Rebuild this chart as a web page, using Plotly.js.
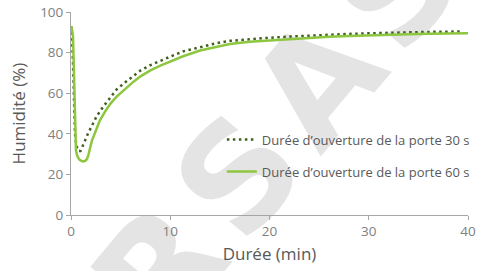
<!DOCTYPE html>
<html>
<head>
<meta charset="utf-8">
<script src="https://cdn.plot.ly/plotly-3.0.1.min.js"></script>
<style>html,body{margin:0;padding:0;background:#fff;}#chart{width:491px;height:271px;}</style>
</head>
<body>
<div id="chart"></div>
<script>
// Series 1: door opening 30 s (dotted)
const t30 = [0, 0.1, 0.2, 0.3, 0.4, 0.55, 0.75, 0.95, 1.1, 1.3, 1.7, 2.1, 2.6, 3.25, 4, 4.6, 5.5, 6.3, 7, 8, 9, 10, 11.3, 13, 14.7, 16, 18, 20, 22, 24, 26, 28, 30, 32, 34, 36, 38, 39.5];
const h30 = [93, 88, 75, 55, 40, 34, 31.5, 31.5, 33, 35.3, 40, 44.2, 48.8, 53.4, 58, 61.9, 65.5, 68.7, 71.2, 73.8, 76, 78, 80.6, 82.7, 84.7, 85.8, 86.7, 87.3, 87.9, 88.4, 88.8, 89.2, 89.5, 89.8, 90, 90.2, 90.3, 90.4];
// Series 2: door opening 60 s (solid)
const t60 = [0.05, 0.2, 0.3, 0.35, 0.4, 0.5, 0.6, 0.8, 1.0, 1.2, 1.4, 1.6, 1.75, 1.9, 2.1, 2.5, 2.9, 3.5, 4.0, 4.6, 5.5, 6.3, 7, 8, 9, 10, 11.3, 13, 14.7, 16, 18, 20, 22, 24, 26, 28, 30, 32, 34, 36, 38, 40];
const h60 = [93, 88, 70, 55, 40, 32, 29.5, 27.5, 26.8, 26.4, 26.6, 27.5, 29.5, 33, 36.5, 41.5, 46.5, 51.5, 55, 58.3, 62.3, 65.7, 68.3, 71.2, 73.6, 75.6, 78.2, 81, 82.9, 84.2, 85.3, 86, 86.7, 87.3, 87.8, 88.2, 88.6, 88.9, 89.1, 89.3, 89.4, 89.5];
const seriesNames = ["Durée d’ouverture de la porte 30 s", "Durée d’ouverture de la porte 60 s"];
const xTicks = [0, 10, 20, 30, 40];
const yTicks = [0, 20, 40, 60, 80, 100];
const watermark = "R\u200AS\u200AA\u200AS";

const FONT = "'Open Sans', Roboto, sans-serif";
const data = [
  {x: t30, y: h30, name: seriesNames[0], type: 'scatter', mode: 'lines', legendgroup: 'a',
   line: {color: '#3f5f1c', width: 2.5, dash: '2.5px,3.5px'}},
  {x: t60, y: h60, name: seriesNames[1], type: 'scatter', mode: 'lines', legendgroup: 'b',
   line: {color: '#8dc63f', width: 2.5}}
];
const layout = {
  width: 491, height: 271,
  margin: {l: 71, r: 23, t: 12, b: 56},
  paper_bgcolor: '#ffffff', plot_bgcolor: 'rgba(0,0,0,0)',
  font: {family: FONT, color: '#7f7f7f', size: 12},
  showlegend: true,
  legend: {x: 0.38, y: 0.445, xanchor: 'left', yanchor: 'top', bgcolor: 'rgba(0,0,0,0)',
           font: {family: FONT, size: 13, color: '#595959'}, tracegroupgap: 12},
  annotations: [{text: watermark, xref: 'paper', yref: 'paper', x: 0.52, y: 0.42, xanchor: 'center', yanchor: 'middle',
                 showarrow: false, textangle: -50,
                 font: {family: "'DejaVu Sans', sans-serif", size: 145, weight: 'bold', color: '#e4e4e4'}}],
  xaxis: {range: [0, 40], tickvals: xTicks, ticktext: xTicks.map(String), showgrid: false, zeroline: false,
          showline: true, linecolor: '#a6a6a6', linewidth: 1, ticks: 'outside', ticklen: 4, tickcolor: '#a6a6a6',
          tickfont: {family: FONT, size: 13.5, color: '#808080'},
          title: {text: 'Durée (min)', font: {family: FONT, size: 17, color: '#595959'}, standoff: 8}},
  yaxis: {range: [0, 100], tickvals: yTicks, ticktext: yTicks.map(String), showgrid: false, zeroline: false,
          showline: true, linecolor: '#a6a6a6', linewidth: 1, ticks: 'outside', ticklen: 4, tickcolor: '#a6a6a6',
          tickfont: {family: FONT, size: 13.5, color: '#808080'},
          title: {text: 'Humidité (%)', font: {family: FONT, size: 17, color: '#595959'}, standoff: 10}}
};
Plotly.newPlot('chart', data, layout, {displayModeBar: false, staticPlot: true}).then(function (gd) {
  // send the watermark behind the plot contents
  const svg = gd.querySelector('.main-svg');
  const below = svg.querySelector('.layer-below') || svg.querySelector('.bglayer');
  gd.querySelectorAll('.annotation').forEach(function (a) {
    below.parentNode.insertBefore(a, below.nextSibling);
  });
});
</script>
</body>
</html>
